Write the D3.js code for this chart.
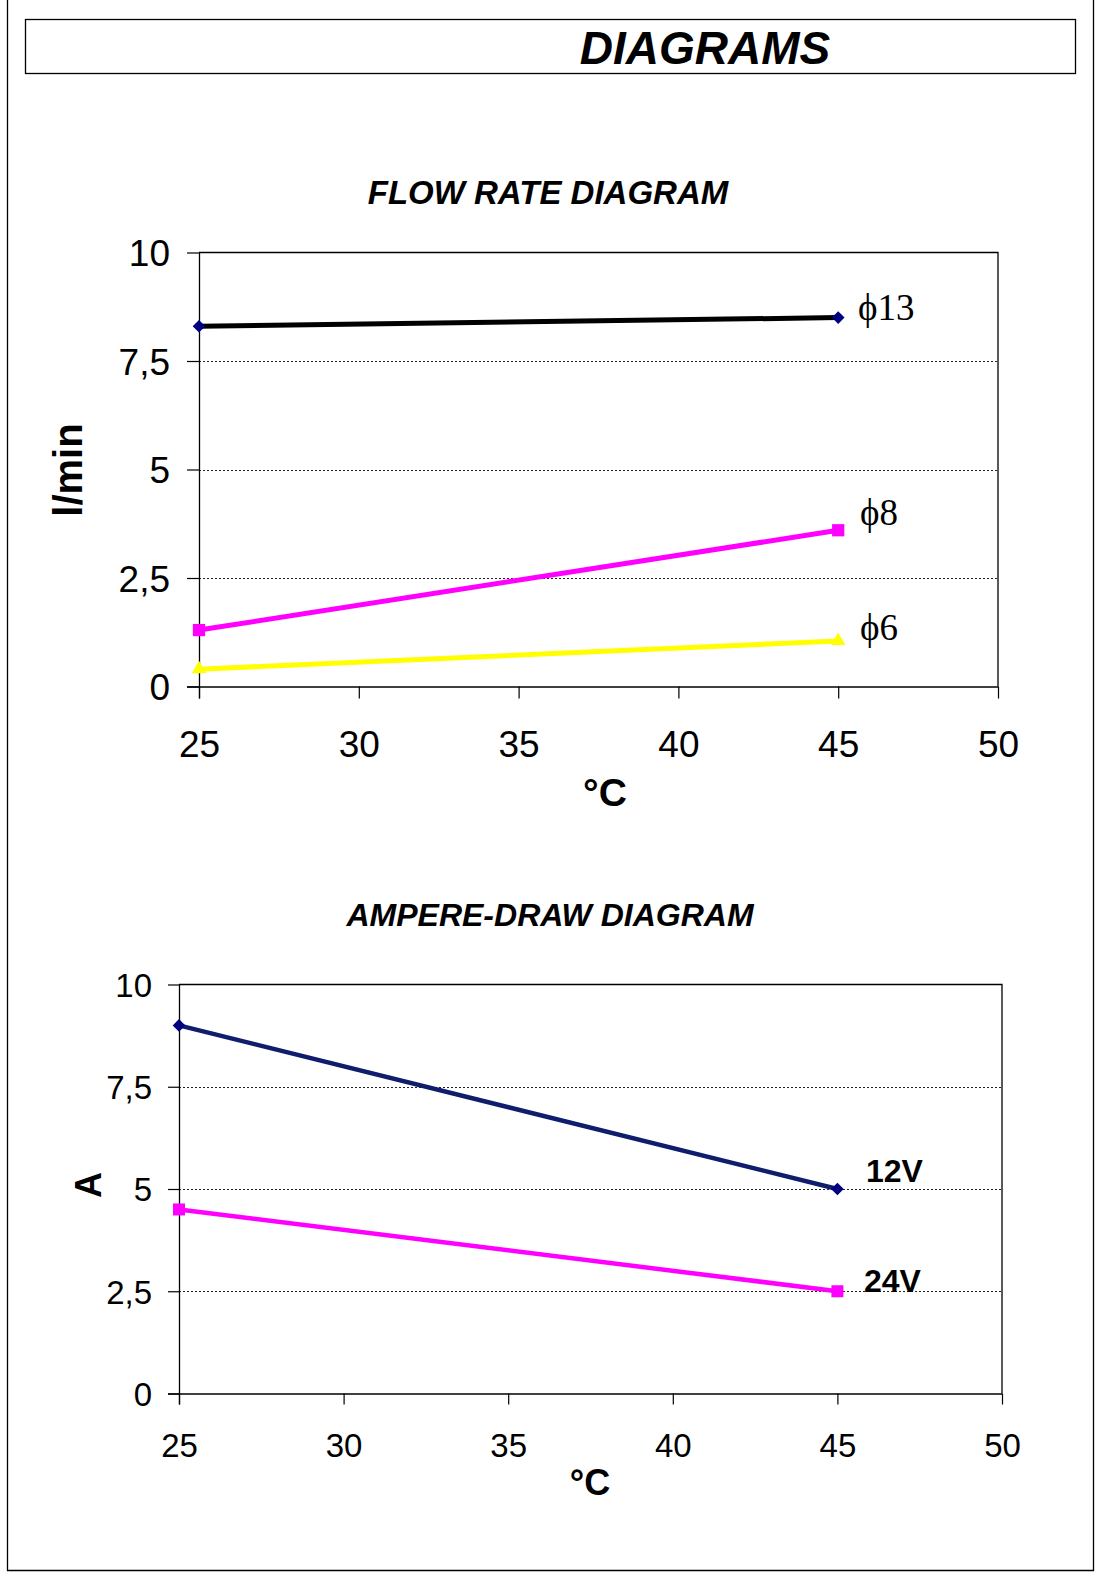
<!DOCTYPE html>
<html>
<head>
<meta charset="utf-8">
<script src="https://cdn.jsdelivr.net/npm/d3@7"></script>
<style>
  body { margin: 0; background: #fff; }
  svg text { font-family: "Liberation Sans", Arial, sans-serif; fill: #000; }
</style>
</head>
<body>
<svg id="page" width="1104" height="1577"></svg>
<script>
// data
const temps = [25, 45];
const xTicks = [25, 30, 35, 40, 45, 50];
const yTicks = [0, 2.5, 5, 7.5, 10];
const gridTicks = [2.5, 5, 7.5];

const flowNames = ["\u03D513", "\u03D58", "\u03D56"];
const flow13 = [8.3, 8.5];
const flow8 = [1.3, 3.6];
const flow6 = [0.4, 1.05];

const ampNames = ["12V", "24V"];
const amp12 = [9.0, 5.0];
const amp24 = [4.5, 2.5];

const svg = d3.select("#page");

// page frame
svg.append("path")
  .attr("d", "M7.5,0 V1570.5 H1093.5 V0")
  .attr("fill", "none")
  .attr("stroke", "#000")
  .attr("stroke-width", 1.3);

// header box
svg.append("rect")
  .attr("x", 25.5).attr("y", 19.5)
  .attr("width", 1050).attr("height", 54)
  .attr("fill", "none").attr("stroke", "#000").attr("stroke-width", 1.3);

svg.append("text")
  .attr("x", 705).attr("y", 64)
  .attr("text-anchor", "middle")
  .attr("font-size", 46)
  .attr("font-weight", "bold")
  .attr("font-style", "italic")
  .text("DIAGRAMS");

const comma = d => String(d).replace(".", ",");

function drawChart(cfg) {
  const x = d3.scaleLinear().domain([25, 50]).range([cfg.left, cfg.right]);
  const y = d3.scaleLinear().domain([0, 10]).range([cfg.bottom, cfg.top]);
  const g = svg.append("g");

  // title
  g.append("text")
    .attr("x", cfg.titleX).attr("y", cfg.titleY)
    .attr("text-anchor", "middle")
    .attr("font-size", cfg.titleSize)
    .attr("font-weight", "bold")
    .attr("font-style", "italic")
    .text(cfg.title);

  // dotted grid
  g.selectAll(".grid")
    .data(gridTicks)
    .enter()
    .append("line")
    .attr("x1", cfg.left).attr("x2", cfg.right)
    .attr("y1", d => Math.round(y(d)) + 0.5)
    .attr("y2", d => Math.round(y(d)) + 0.5)
    .attr("stroke", "#222")
    .attr("stroke-width", 1)
    .attr("stroke-dasharray", "2,2");

  // frame (top + right)
  g.append("path")
    .attr("d", `M${cfg.left},${y(10)} H${cfg.right} V${cfg.bottom}`)
    .attr("fill", "none").attr("stroke", "#000").attr("stroke-width", 1.3);

  // axes
  const xAxis = d3.axisBottom(x).tickValues(xTicks).tickSize(cfg.tick).tickFormat(comma);
  const yAxis = d3.axisLeft(y).tickValues(yTicks).tickSize(cfg.tick).tickFormat(comma);

  const gx = g.append("g")
    .attr("transform", `translate(0,${cfg.bottom})`)
    .call(xAxis);
  gx.select(".domain").attr("d", `M${cfg.left - cfg.tick},0.5H${cfg.right}`).attr("stroke-width", 1.3);
  gx.selectAll(".tick line").attr("stroke-width", 1.2);
  gx.selectAll("text")
    .attr("y", cfg.xLabelOff).attr("dy", null)
    .attr("font-size", cfg.tickSize)
    .attr("fill", "#000");

  const gy = g.append("g")
    .attr("transform", `translate(${cfg.left},0)`)
    .call(yAxis);
  gy.select(".domain").attr("d", `M0.5,${cfg.top}V${cfg.bottom + cfg.tick}`).attr("stroke-width", 1.3);
  gy.selectAll(".tick line").attr("stroke-width", 1.2);
  gy.selectAll("text")
    .attr("x", -cfg.yLabelOff)
    .attr("dy", "0.36em")
    .attr("font-size", cfg.tickSize)
    .attr("fill", "#000");
  g.selectAll(".domain, .tick line").attr("stroke", "#000");

  // axis titles
  g.append("text")
    .attr("x", cfg.xTitleX).attr("y", cfg.xTitleY)
    .attr("text-anchor", "middle")
    .attr("font-size", cfg.xTitleSize)
    .attr("font-weight", "bold")
    .text("\u00B0C");

  g.append("text")
    .attr("transform", `translate(${cfg.yTitleX},${cfg.yTitleY}) rotate(-90)`)
    .attr("text-anchor", "middle")
    .attr("font-size", cfg.yTitleSize)
    .attr("font-weight", "bold")
    .text(cfg.yTitle);

  // series
  const line = d3.line().x((d, i) => x(temps[i])).y(d => y(d));
  cfg.series.forEach(s => {
    g.append("path")
      .datum(s.values)
      .attr("d", line)
      .attr("fill", "none")
      .attr("stroke", s.color)
      .attr("stroke-width", s.width);

    g.selectAll(null)
      .data(s.values)
      .enter()
      .append("path")
      .attr("d", d3.symbol(s.symbol, s.size))
      .attr("transform", (d, i) => `translate(${x(temps[i])},${y(d)}) rotate(${s.rot || 0})`)
      .attr("fill", s.marker);

    g.append("text")
      .attr("x", s.labelX).attr("y", s.labelY)
      .attr("font-size", s.labelSize)
      .attr("font-weight", s.labelWeight)
      .style("font-family", s.labelFont)
      .text(s.name);
  });
}

drawChart({
  title: "FLOW RATE DIAGRAM", titleX: 548, titleY: 204, titleSize: 33,
  left: 199, right: 998, top: 252.5, bottom: 686.5, tick: 12,
  tickSize: 37, xLabelOff: 70, yLabelOff: 29,
  xTitleX: 605, xTitleY: 806, xTitleSize: 39,
  yTitle: "l/min", yTitleX: 82, yTitleY: 470, yTitleSize: 40,
  series: [
    { name: flowNames[0], values: flow13, color: "#000", width: 5, marker: "#000080",
      symbol: d3.symbolSquare, size: 80, rot: 45,
      labelX: 858, labelY: 320, labelSize: 37, labelWeight: "normal", labelFont: "'Liberation Serif', 'DejaVu Serif', serif" },
    { name: flowNames[1], values: flow8, color: "#ff00ff", width: 5, marker: "#ff00ff",
      symbol: d3.symbolSquare, size: 150,
      labelX: 860, labelY: 525, labelSize: 37, labelWeight: "normal", labelFont: "'Liberation Serif', 'DejaVu Serif', serif" },
    { name: flowNames[2], values: flow6, color: "#ffff00", width: 5, marker: "#ffff00",
      symbol: d3.symbolTriangle, size: 90,
      labelX: 860, labelY: 640, labelSize: 37, labelWeight: "normal", labelFont: "'Liberation Serif', 'DejaVu Serif', serif" }
  ]
});

drawChart({
  title: "AMPERE-DRAW DIAGRAM", titleX: 550, titleY: 926, titleSize: 32,
  left: 179, right: 1002, top: 984.5, bottom: 1393.5, tick: 11,
  tickSize: 33, xLabelOff: 63, yLabelOff: 27,
  xTitleX: 590, xTitleY: 1495, xTitleSize: 36,
  yTitle: "A", yTitleX: 101, yTitleY: 1185, yTitleSize: 36,
  series: [
    { name: ampNames[0], values: amp12, color: "#101c6c", width: 4.5, marker: "#000080",
      symbol: d3.symbolSquare, size: 80, rot: 45,
      labelX: 866, labelY: 1182, labelSize: 32, labelWeight: "bold", labelFont: "'Liberation Sans', Arial, sans-serif" },
    { name: ampNames[1], values: amp24, color: "#ff00ff", width: 4.5, marker: "#ff00ff",
      symbol: d3.symbolSquare, size: 144,
      labelX: 864, labelY: 1292, labelSize: 32, labelWeight: "bold", labelFont: "'Liberation Sans', Arial, sans-serif" }
  ]
});
</script>
</body>
</html>
